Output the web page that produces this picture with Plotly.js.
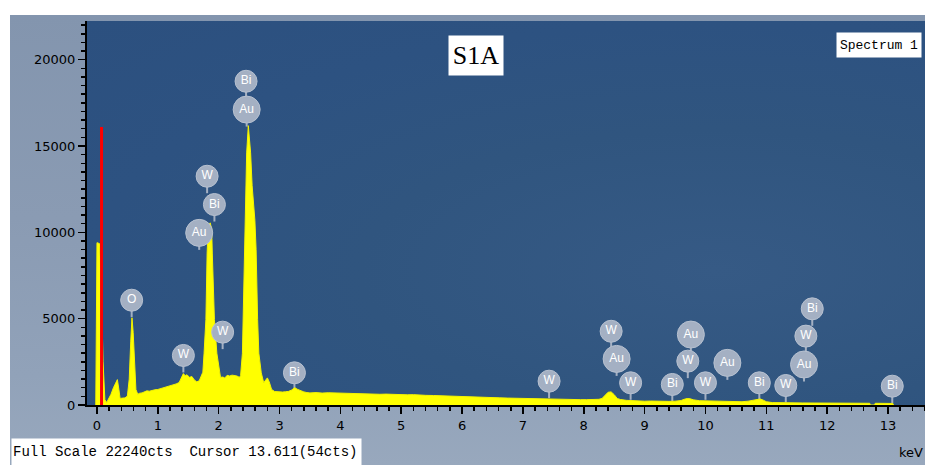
<!DOCTYPE html>
<html>
<head>
<meta charset="utf-8">
<script src="https://cdn.plot.ly/plotly-3.0.1.min.js"></script>
<style>
  html, body { margin:0; padding:0; background:#ffffff; width:925px; height:465px; overflow:hidden; }
  #panel { position:absolute; left:10px; top:15px; width:915px; height:450px;
    background: linear-gradient(180deg, #8395ae 0%, #8a9bb3 45%, #91a2b9 80%, #98a8bd 100%); }
  #plotbg { position:absolute; left:87px; top:21px; width:838px; height:384px;
    background: radial-gradient(ellipse at 75% 65%, #365a85 0%, #30557f 40%, #2d5281 70%, #2c507f 100%); }
  #chart { position:absolute; left:10px; top:15px; width:915px; height:450px; }
</style>
</head>
<body>
<div id="panel"></div>
<div id="plotbg"></div>
<div id="chart"></div>
<script>
// ---- spectrum data (keV, counts) ----
const energy = [
  -0.02, 0.00, 0.04, 0.07, 0.10, 0.13, 0.16, 0.19, 0.23, 0.27, 0.31, 0.335, 0.36, 0.38, 0.42, 0.46,
  0.50, 0.53, 0.555, 0.575, 0.595, 0.615, 0.64, 0.67, 0.70, 0.74, 0.78, 0.82, 0.86, 0.90, 0.95,
  1.00, 1.05, 1.10, 1.15, 1.20, 1.25, 1.30, 1.35, 1.38, 1.42, 1.45, 1.48, 1.52, 1.56, 1.60, 1.64,
  1.68, 1.72, 1.74, 1.76, 1.79, 1.81, 1.83, 1.86, 1.885, 1.895, 1.91, 1.93, 1.97, 2.01, 2.03,
  2.07, 2.10, 2.14, 2.18, 2.22, 2.26, 2.30, 2.34, 2.36, 2.39, 2.41, 2.43, 2.46, 2.487, 2.525,
  2.55, 2.595, 2.615, 2.625, 2.64, 2.66, 2.70, 2.74, 2.77, 2.80, 2.83, 2.87, 2.92, 2.96, 3.00,
  3.05, 3.10, 3.15, 3.20, 3.25, 3.30, 3.35, 3.40, 3.45, 3.50, 3.60, 3.70, 3.80, 3.88, 3.95,
  4.05, 4.15, 4.25, 4.35, 4.43, 4.55, 4.65, 4.75, 4.85, 4.98, 5.10, 5.20, 5.30, 5.40, 5.53,
  5.65, 5.75, 5.85, 5.95, 6.07, 6.20, 6.30, 6.40, 6.50, 6.62, 6.75, 6.85, 6.95, 7.05, 7.17,
  7.30, 7.40, 7.50, 7.60, 7.72, 7.85, 7.95, 8.05, 8.15, 8.25, 8.30, 8.35, 8.40, 8.45, 8.50,
  8.55, 8.60, 8.70, 8.80, 8.90, 9.00, 9.10, 9.20, 9.30, 9.40, 9.50, 9.60, 9.65, 9.70, 9.75,
  9.80, 9.90, 10.00, 10.10, 10.20, 10.30, 10.40, 10.50, 10.60, 10.70, 10.80, 10.85, 10.90, 10.95, 11.00,
  11.10, 11.20, 11.40, 11.60, 11.80, 12.00, 12.20, 12.40, 12.60, 12.70, 12.71, 12.78, 12.79, 12.95, 13.08,
  13.09
];
const counts = [
  0, 9400, 9350, 7000, 2500, 300, 150, 320, 620, 1000, 1350, 1470, 900, 380, 400, 410,
  520, 1500, 3700, 5050, 4200, 2200, 900, 620, 680, 700, 760, 820, 800, 850, 880,
  900, 950, 1000, 1050, 1090, 1150, 1220, 1300, 1500, 1820, 1700, 1750, 1600, 1650, 1450, 1340,
  1400, 1750, 1900, 3000, 4950, 8800, 10400, 10550, 10200, 8800, 6900, 4950, 3000, 1900, 1600,
  1620, 1560, 1720, 1680, 1730, 1700, 1680, 1600, 1700, 3000, 6900, 10700, 14600, 16180, 14600,
  12700, 10700, 9000, 7000, 4950, 3000, 1860, 1290, 1400, 1570, 1350, 900, 780, 760, 740,
  750, 770, 790, 870, 1000, 900, 810, 760, 720, 700, 720, 690, 710, 700, 680,
  690, 660, 670, 650, 650, 640, 620, 630, 610, 610, 590, 600, 570, 560, 550,
  540, 520, 510, 500, 475, 460, 450, 440, 430, 415, 400, 390, 380, 370, 360,
  350, 340, 335, 325, 320, 315, 310, 310, 320, 330, 380, 550, 740, 760, 600,
  380, 320, 270, 240, 230, 220, 230, 215, 220, 210, 220, 260, 330, 375, 360,
  300, 250, 240, 220, 210, 200, 210, 200, 190, 220, 270, 330, 350, 280, 190,
  140, 130, 125, 120, 115, 110, 108, 105, 100, 100, 0, 0, 100, 95, 90,
  0
];
// cursor marker (red line)
const cursorX = [0.075, 0.075];
const cursorY = [0, 16100];

// ---- element labels ----
const labelText = ['O','W','Au','W','Bi','W','Au','Bi','Bi','W','W','Au','W','Bi','W','Au','W','Au','Bi','W','Au','W','Bi','Bi'];
const labelX = [0.57, 1.42, 1.68, 1.81, 1.93, 2.065, 2.46, 2.45, 3.245, 7.43, 8.45, 8.54, 8.77, 9.455, 9.71, 9.76, 10.00, 10.36, 10.885, 11.32, 11.62, 11.65, 11.755, 13.07];
const labelY = [6070, 2870, 9970, 13250, 11610, 4220, 17110, 18750, 1865, 1380, 4270, 2670, 1285, 1190, 2540, 4080, 1285, 2440, 1285, 1130, 2345, 3990, 5570, 1090];

// ---- text ----
const titleText = 'S1A';
const spectrumName = 'Spectrum 1';
const statusText = 'Full Scale 22240cts  Cursor 13.611(54cts)';
const xUnit = 'keV';

const circleColor = '#a4b0c3';

const traces = [
  {
    x: energy, y: counts, type: 'scatter', mode: 'lines',
    fill: 'tozeroy', fillcolor: '#ffff00',
    line: { color: '#f4f400', width: 1, shape: 'linear' },
    hoverinfo: 'skip'
  },
  {
    x: cursorX, y: cursorY, type: 'scatter', mode: 'lines',
    line: { color: '#ff0000', width: 3 }, hoverinfo: 'skip'
  },
  {
    x: labelX, y: labelY, type: 'scatter', mode: 'markers+text',
    text: labelText, textposition: 'middle center',
    textfont: { family: 'Liberation Sans, Arial, sans-serif', size: 12, color: '#ffffff' },
    marker: {
      symbol: 'circle',
      size: labelText.map(t => t === 'Au' ? 27 : 22),
      color: circleColor,
      opacity: 1,
      line: { color: '#b7c1d0', width: 1 }
    },
    hoverinfo: 'skip', cliponaxis: false
  }
];

const shapes = labelX.map((x, i) => ({
  type: 'line', xref: 'x', yref: 'y',
  x0: x, x1: x,
  ysizemode: 'pixel', yanchor: labelY[i], y0: -17, y1: 0,
  line: { color: circleColor, width: 2 },
  layer: 'below'
}));

const tickFont = { family: 'DejaVu Sans, Verdana, sans-serif', size: 13, color: '#000000' };

const layout = {
  width: 915, height: 450,
  margin: { l: 77, r: 0, t: 6, b: 60, pad: 0 },
  paper_bgcolor: 'rgba(0,0,0,0)',
  plot_bgcolor: 'rgba(0,0,0,0)',
  showlegend: false,
  xaxis: {
    range: [-0.164, 13.608], tick0: 0, dtick: 1,
    ticks: 'outside', ticklen: 7, tickwidth: 1.5, tickcolor: '#000',
    showline: true, linecolor: '#000', linewidth: 2,
    showgrid: false, zeroline: false, tickfont: tickFont, fixedrange: true,
    minor: { tick0: 0, dtick: 0.2, ticks: 'outside', ticklen: 4, tickwidth: 1.5, tickcolor: '#000', showgrid: false }
  },
  yaxis: {
    range: [0, 22240], tick0: 0, dtick: 5000, tickformat: 'd',
    ticks: 'outside', ticklen: 7, tickwidth: 1.5, tickcolor: '#000',
    showline: true, linecolor: '#000', linewidth: 2,
    showgrid: false, zeroline: false, tickfont: tickFont, fixedrange: true,
    minor: { tick0: 0, dtick: 500, ticks: 'outside', ticklen: 4, tickwidth: 1.5, tickcolor: '#000', showgrid: false }
  },
  shapes: shapes,
  annotations: [
    {
      xref: 'paper', yref: 'paper', x: 0.4642, y: 0.909, xanchor: 'center', yanchor: 'middle',
      text: titleText, showarrow: false, bgcolor: '#ffffff', width: 52, height: 37, borderpad: 1,
      font: { family: 'Liberation Serif, Times New Roman, serif', size: 26, color: '#000' }
    },
    {
      xref: 'paper', yref: 'paper', x: 0.945, y: 0.9375, xanchor: 'center', yanchor: 'middle',
      text: spectrumName, showarrow: false, bgcolor: '#ffffff', width: 82, height: 22, borderpad: 1,
      font: { family: 'Liberation Mono, monospace', size: 13, color: '#000' }
    },
    {
      xref: 'paper', yref: 'paper', x: 0.1187, y: -0.1224, xanchor: 'center', yanchor: 'middle',
      text: statusText, showarrow: false, bgcolor: '#ffffff', width: 347, height: 24, borderpad: 1,
      align: 'left',
      font: { family: 'Liberation Mono, monospace', size: 14, color: '#000' }
    },
    {
      xref: 'paper', yref: 'paper', x: 0.9985, y: -0.1224, xanchor: 'right', yanchor: 'middle',
      text: xUnit, showarrow: false, borderpad: 0,
      font: { family: 'DejaVu Sans, Verdana, sans-serif', size: 13, color: '#000' }
    }
  ]
};

Plotly.newPlot('chart', traces, layout, { displayModeBar: false, staticPlot: true });
</script>
</body>
</html>
